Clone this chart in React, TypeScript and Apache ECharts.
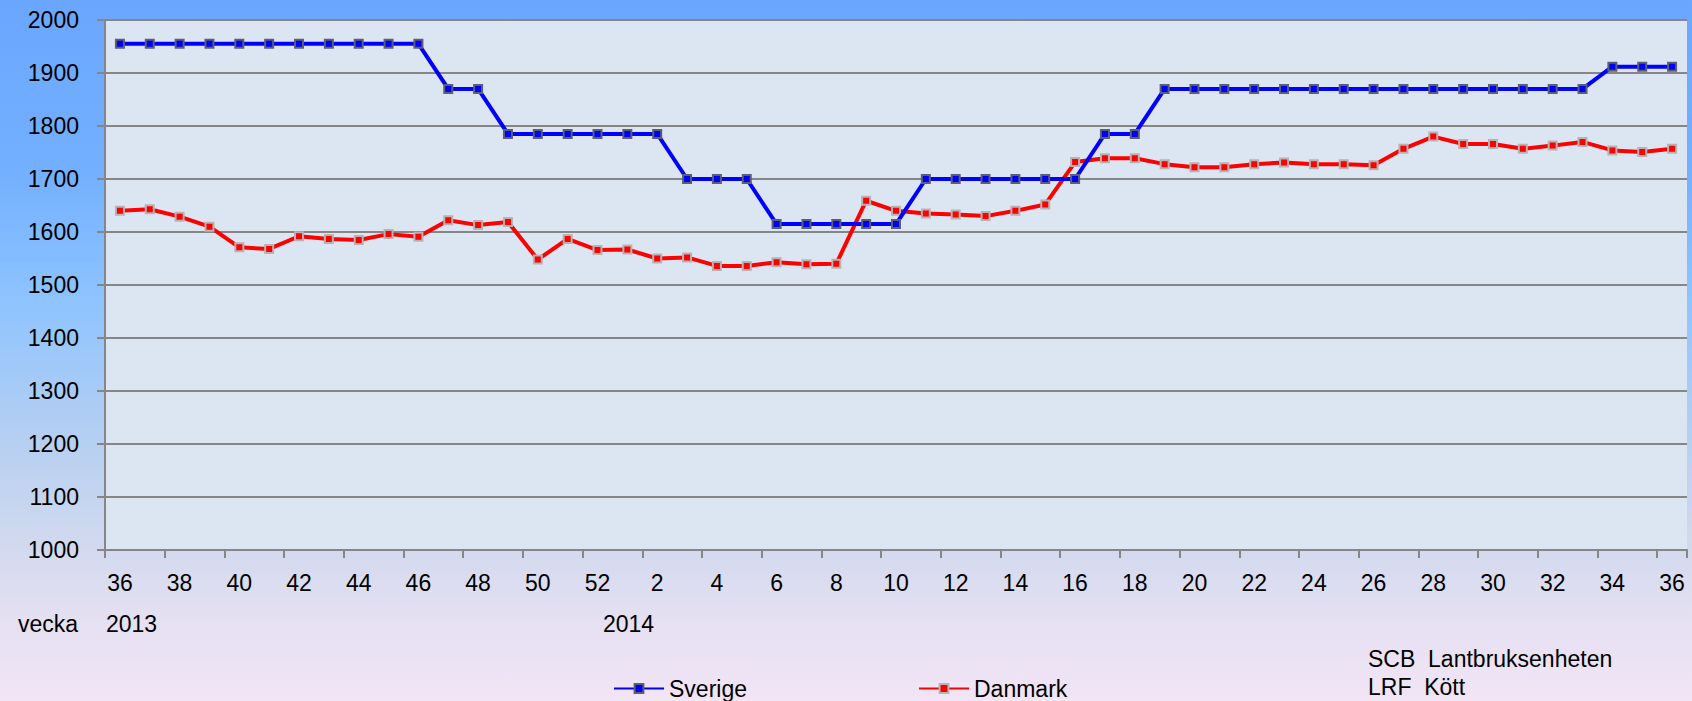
import React, { useEffect, useRef } from "react";
import * as echarts from "echarts";

const weeks = [
  "36", "37", "38", "39", "40", "41", "42", "43", "44", "45", "46", "47", "48", "49", "50", "51", "52",
  "1", "2", "3", "4", "5", "6", "7", "8", "9", "10", "11", "12", "13", "14", "15", "16", "17", "18",
  "19", "20", "21", "22", "23", "24", "25", "26", "27", "28", "29", "30", "31", "32", "33", "34", "35", "36",
];

const sverige = [
  1955, 1955, 1955, 1955, 1955, 1955, 1955, 1955, 1955, 1955, 1955,
  1870, 1870,
  1785, 1785, 1785, 1785, 1785, 1785,
  1700, 1700, 1700,
  1615, 1615, 1615, 1615, 1615,
  1700, 1700, 1700, 1700, 1700, 1700,
  1785, 1785,
  1870, 1870, 1870, 1870, 1870, 1870, 1870, 1870, 1870, 1870, 1870, 1870, 1870, 1870, 1870,
  1912, 1912, 1912,
];

const danmark = [
  1640, 1643, 1629, 1610, 1571, 1568, 1592, 1587, 1585, 1596, 1591, 1622, 1613, 1619, 1548, 1587, 1566,
  1567, 1550, 1552, 1536, 1536, 1543, 1539, 1540, 1659, 1640, 1635, 1633, 1630, 1640, 1652, 1732, 1739,
  1739, 1728, 1722, 1722, 1728, 1731, 1728, 1728, 1726, 1757, 1780, 1766, 1766, 1757, 1763, 1770, 1754,
  1751, 1757,
];

const seriesNames = ["Sverige", "Danmark"];
const yearLabels = ["2013", "2014"];
const axisWord = "vecka";
const sourceLines = ["SCB  Lantbruksenheten", "LRF  Kött"];

const FONT = "Liberation Sans";
const FS = 23;

export default function App() {
  const ref = useRef<HTMLDivElement>(null);

  useEffect(() => {
    if (!ref.current) return;
    const chart = echarts.init(ref.current, undefined, { renderer: "svg" });
    const gray = "#868686";
    const txt = { fontFamily: FONT, fontSize: FS, fill: "#000" };
    const legendBase = {
      top: 677,
      padding: 0,
      itemWidth: 50,
      itemHeight: 11,
      textStyle: { fontFamily: FONT, fontSize: FS, color: "#000" },
    };
    chart.setOption({
      animation: false,
      backgroundColor: "transparent",
      textStyle: { fontFamily: FONT },
      grid: {
        left: 105,
        right: 5,
        top: 20,
        bottom: 151,
        show: true,
        backgroundColor: "#dce6f2",
        borderWidth: 0,
      },
      legend: [
        { ...legendBase, data: [seriesNames[0]], left: 613 },
        { ...legendBase, data: [seriesNames[1]], left: 918 },
      ],
      xAxis: {
        type: "category",
        data: weeks,
        boundaryGap: true,
        axisLine: { show: true, lineStyle: { color: gray, width: 2 } },
        axisTick: { show: true, interval: 1, length: 8, lineStyle: { color: gray, width: 2 } },
        axisLabel: { interval: 1, margin: 21, fontFamily: FONT, fontSize: FS, color: "#000" },
        splitLine: { show: false },
      },
      yAxis: {
        type: "value",
        min: 1000,
        max: 2000,
        interval: 100,
        axisLine: { show: true, lineStyle: { color: gray, width: 2 } },
        axisTick: { show: true, length: 8, lineStyle: { color: gray, width: 2 } },
        axisLabel: {
          margin: 26,
          fontFamily: FONT,
          fontSize: FS,
          color: "#000",
          formatter: (v: number) => String(v),
        },
        splitLine: { show: true, lineStyle: { color: gray, width: 2 } },
      },
      series: [
        {
          name: seriesNames[0],
          type: "line",
          data: sverige,
          symbol: "rect",
          symbolSize: 8,
          showAllSymbol: true,
          lineStyle: { color: "#0000ff", width: 4 },
          itemStyle: { color: "#0000ff", borderColor: "#5c5f6e", borderWidth: 2 },
          z: 3,
        },
        {
          name: seriesNames[1],
          type: "line",
          data: danmark,
          symbol: "rect",
          symbolSize: 8,
          showAllSymbol: true,
          lineStyle: { color: "#ff0000", width: 4 },
          itemStyle: { color: "#ff0000", borderColor: "#b4b4b4", borderWidth: 2 },
          z: 2,
        },
      ],
      graphic: [
        { type: "text", left: 18, top: 612, style: { text: axisWord, ...txt } },
        { type: "text", left: 106, top: 612, style: { text: yearLabels[0], ...txt } },
        { type: "text", left: 603, top: 612, style: { text: yearLabels[1], ...txt } },
        { type: "text", left: 1368, top: 647, style: { text: sourceLines[0], ...txt } },
        { type: "text", left: 1368, top: 675, style: { text: sourceLines[1], ...txt } },
      ],
    });
    return () => chart.dispose();
  }, []);

  return (
    <div
      ref={ref}
      style={{
        position: "absolute",
        left: 0,
        top: 0,
        width: "1692px",
        height: "701px",
        overflow: "hidden",
        background:
          "linear-gradient(180deg, #6aa6fe 0%, #74b0ff 25%, #8cc3ff 42%, #b4cff2 62%, #d2d9ee 78%, #e4e0f2 88%, #f2e5f5 100%)",
      }}
    />
  );
}
